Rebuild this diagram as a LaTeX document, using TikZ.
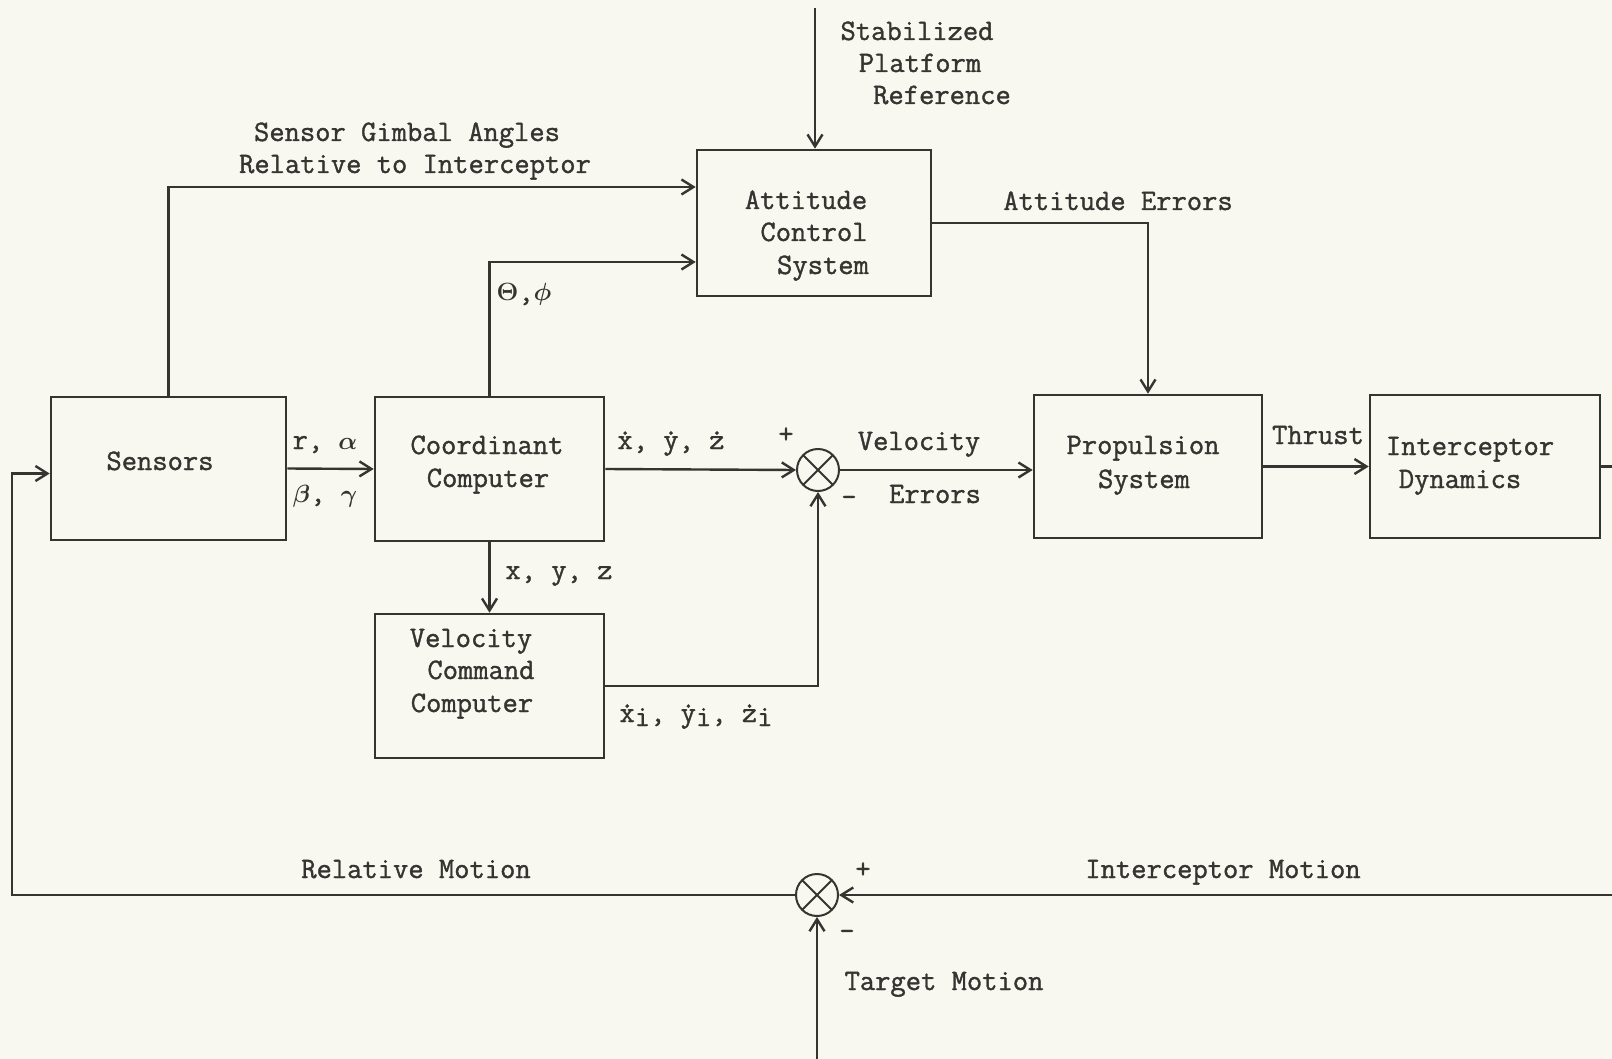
\documentclass[tikz,border=0pt]{standalone}
\usepackage{fontspec}
\usepackage{bm}
\setmonofont{Latin Modern Mono}[FakeBold=1.2]
\usetikzlibrary{arrows.meta,calc}
\definecolor{ink}{RGB}{52,52,48}
\definecolor{paper}{RGB}{248,247,240}
\newcommand\dotc[1]{\ooalign{#1\cr\hidewidth\raisebox{0.48em}{.}\hidewidth\cr}}
\begin{document}
\begin{tikzpicture}[x=1pt,y=-1pt,
  every node/.style={font=\ttfamily\fontsize{29.7}{32}\selectfont, text=ink},
  txt/.style={anchor=base, inner sep=0pt},
  blk/.style={draw=ink, line width=2.6pt, inner sep=0pt},
  sumj/.style={circle, draw=ink, line width=2pt, minimum size=42pt, inner sep=0pt,
    path picture={\draw[ink, line width=2pt] (path picture bounding box.north west) -- (path picture bounding box.south east)
      (path picture bounding box.north east) -- (path picture bounding box.south west);}},
  conn/.style={draw=ink, line width=2.4pt},
  arr/.style={conn, -{Straight Barb[length=12pt,width=15pt,line width=2.4pt]}}]
\fill[paper] (0,0) rectangle (1612,1059);
\useasboundingbox (0,0) rectangle (1612,1059);

% blocks
\node[blk, minimum width=235pt, minimum height=143pt] (sens) at (168.5,468.5) {};
\node[blk, minimum width=229pt, minimum height=144pt] (cc) at (489.5,469) {};
\node[blk, minimum width=234pt, minimum height=146pt] (acs) at (814,223) {};
\node[blk, minimum width=228pt, minimum height=143pt] (prop) at (1148,466.5) {};
\node[blk, minimum width=230pt, minimum height=143pt] (idyn) at (1485,466.5) {};
\node[blk, minimum width=229pt, minimum height=144pt] (vcc) at (489.5,686) {};
\node[sumj] (s1) at (818,470) {};
\node[sumj] (s2) at (817,895) {};

% free ends
\coordinate (topin) at (815,8);
\coordinate (rightout) at (1612,466.5);
\coordinate (rightin) at (1612,895);
\coordinate (botin) at (817,1059);
\coordinate (leftcorner) at (12,895);

% texts
\node[txt] (t1) at (917,40) {Stabilized};
\node[txt] (t2) at (920,72) {Platform};
\node[txt] (t3) at (942,104) {Reference};
\node[txt] (t4) at (407,141) {Sensor Gimbal Angles};
\node[txt] (t5) at (415,173) {Relative to Interceptor};
\node[txt] (t6) at (806,209) {Attitude};
\node[txt] (t7) at (814,241) {Control};
\node[txt] (t8) at (823,274) {System};
\node[txt] (t9) at (1118,210) {Attitude Errors};
\node[txt] (t10) at (524,301) {$\bm\Theta$,$\bm\phi$};
\node[txt] (t11) at (160,470) {Sensors};
\node[txt] (t12) at (325,449) {r, $\bm\alpha$};
\node[txt] (t13) at (325,502) {$\bm\beta$, $\bm\gamma$};
\node[txt] (t14) at (487,454) {Coordinant};
\node[txt] (t15) at (488,487) {Computer};
\node[txt] (t16) at (671,449) {\dotc{x}, \dotc{y}, \dotc{z}};
\node[txt] (t17) at (786,443) {+};
\node[txt] (t18) at (919,450) {Velocity};
\node[txt] (t19) at (935,503) {Errors};
\node[txt] (t20) at (849,506) {-};
\node[txt] (t21) at (1143,454) {Propulsion};
\node[txt] (t22) at (1144,488) {System};
\node[txt] (t23) at (1318,444) {Thrust};
\node[txt] (t24) at (1470,455) {Interceptor};
\node[txt] (t25) at (1460,488) {Dynamics};
\node[txt] (t26) at (559,579) {x, y, z};
\node[txt] (t27) at (471,647) {Velocity};
\node[txt] (t28) at (481,679) {Command};
\node[txt] (t29) at (472,712) {Computer};
\node[txt] (t30) at (696,722) {\dotc{x}\raisebox{-4pt}{i}, \dotc{y}\raisebox{-4pt}{i}, \dotc{z}\raisebox{-4pt}{i}};
\node[txt] (t31) at (416,878) {Relative Motion};
\node[txt] (t32) at (863,878) {+};
\node[txt] (t33) at (1223,878) {Interceptor Motion};
\node[txt] (t34) at (847,940) {-};
\node[txt] (t35) at (944,990) {Target Motion};

% connectors
\draw[arr] (topin) -- (topin |- acs.north);
\draw[arr] (sens.north) |- ([yshift=36pt]acs.west);
\draw[arr] (cc.north) |- ([yshift=-39pt]acs.west);
\draw[arr] (acs.east) -| (prop.north);
\draw[arr] (sens.east) -- (cc.west);
\draw[arr] (cc.east) -- (s1.west);
\draw[arr] (s1.east) -- (s1.east -| prop.west);
\draw[arr] (prop.east) -- (idyn.west);
\draw[arr] (cc.south) -- (vcc.north);
\draw[arr] (vcc.east) -| (s1.south);
\draw[conn] (idyn.east) -- (rightout);
\draw[arr] (rightin) -- (s2.east);
\draw[arr] (botin) -- (s2.south);
\draw[arr] (s2.west) -- (leftcorner) |- ([yshift=-5pt]sens.west);
\end{tikzpicture}
\end{document}
